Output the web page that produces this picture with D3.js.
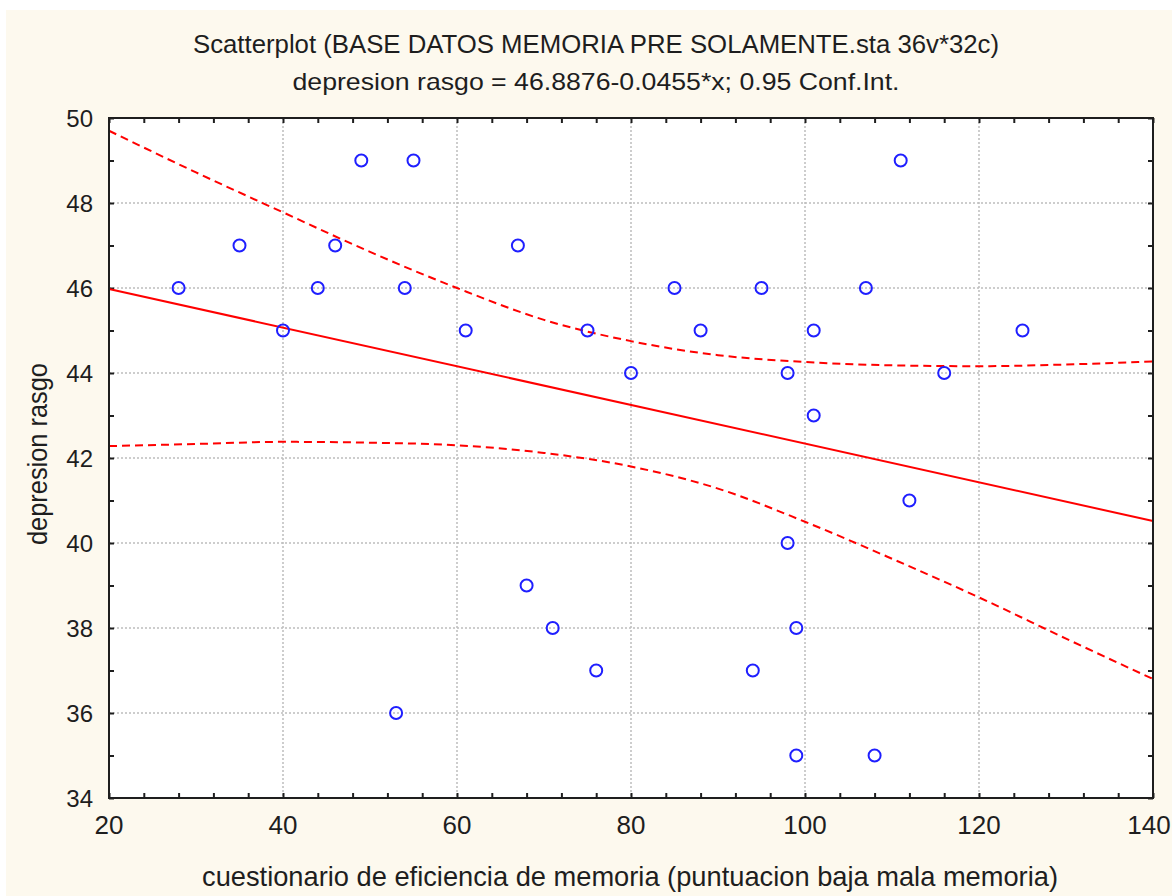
<!DOCTYPE html>
<html>
<head>
<meta charset="utf-8">
<script src="https://cdn.jsdelivr.net/npm/d3@7"></script>
<style>
  body { margin: 0; background: #ffffff; }
  text { font-family: "Liberation Sans Narrow", "Arial Narrow", "Liberation Sans", sans-serif; fill: #1e1e1e; }
</style>
</head>
<body>
<svg id="chart"></svg>
<script>
// data
const memoria = [28, 35, 40, 44, 46, 49, 55, 54, 53, 61, 67, 68, 71, 75, 76, 80,
                 85, 88, 94, 95, 98, 98, 99, 99, 101, 101, 107, 108, 111, 112, 116, 125];
const depresion = [46, 47, 45, 46, 47, 49, 49, 46, 36, 45, 47, 39, 38, 45, 37, 44,
                   46, 45, 37, 46, 44, 40, 38, 35, 45, 43, 46, 35, 49, 41, 44, 45];

// fitted line from the title: 46.8876 - 0.0455*x
const intercept = 46.8876;
const slope = -0.0455;

// 0.95 confidence band, read at these x positions
const bandX = [20, 30, 40, 50, 60, 70, 80, 90, 100, 110, 120, 130, 140];
const bandUpper = [49.70, 48.72, 47.78, 46.85, 46.00, 45.25, 44.75, 44.42, 44.26, 44.18, 44.16, 44.20, 44.27];
const bandLower = [42.28, 42.33, 42.38, 42.36, 42.30, 42.12, 41.80, 41.28, 40.50, 39.63, 38.72, 37.75, 36.80];

const xTicks = [20, 40, 60, 80, 100, 120, 140];
const yTicks = [34, 36, 38, 40, 42, 44, 46, 48, 50];

const title1 = "Scatterplot (BASE DATOS MEMORIA PRE SOLAMENTE.sta 36v*32c)";
const title2 = "depresion rasgo = 46.8876-0.0455*x; 0.95 Conf.Int.";
const xTitle = "cuestionario de eficiencia de memoria (puntuacion baja mala memoria)";
const yTitle = "depresion rasgo";

const width = 1172, height = 896;
const plot = { left: 109, right: 1153, top: 118, bottom: 798 };

const svg = d3.select("#chart").attr("width", width).attr("height", height);

// cream panel
svg.append("rect").attr("x", 6).attr("y", 10).attr("width", width - 6).attr("height", height - 10)
    .attr("fill", "#fdf9ee");

const x = d3.scaleLinear().domain([20, 140]).range([plot.left, plot.right]);
const y = d3.scaleLinear().domain([34, 50]).range([plot.bottom, plot.top]);

svg.append("rect")
    .attr("x", plot.left).attr("y", plot.top)
    .attr("width", plot.right - plot.left).attr("height", plot.bottom - plot.top)
    .attr("fill", "#ffffff");

// grid lines (interior major ticks only)
const grid = svg.append("g").attr("stroke", "#bdbdbd").attr("stroke-width", 1.5)
    .attr("stroke-dasharray", "2,2");
grid.selectAll(".gx").data(xTicks.slice(1, -1)).enter().append("line")
    .attr("x1", d => x(d)).attr("x2", d => x(d))
    .attr("y1", plot.top).attr("y2", plot.bottom);
grid.selectAll(".gy").data(yTicks.slice(1, -1)).enter().append("line")
    .attr("y1", d => y(d)).attr("y2", d => y(d))
    .attr("x1", plot.left).attr("x2", plot.right);

// axes with inward ticks on all four sides
const xMinor = d3.range(20, 141, 4);
const yMinor = d3.range(34, 51, 1);

svg.append("g")
    .attr("transform", "translate(0," + plot.bottom + ")")
    .call(d3.axisTop(x).tickValues(xMinor).tickSize(5).tickFormat(""))
    .call(g => g.select(".domain").remove());
svg.append("g")
    .attr("transform", "translate(0," + plot.top + ")")
    .call(d3.axisBottom(x).tickValues(xMinor).tickSize(5).tickFormat(""))
    .call(g => g.select(".domain").remove());
svg.append("g")
    .attr("transform", "translate(" + plot.left + ",0)")
    .call(d3.axisRight(y).tickValues(yMinor).tickSize(5).tickFormat(""))
    .call(g => g.select(".domain").remove());
svg.append("g")
    .attr("transform", "translate(" + plot.right + ",0)")
    .call(d3.axisLeft(y).tickValues(yMinor).tickSize(5).tickFormat(""))
    .call(g => g.select(".domain").remove());
svg.selectAll(".tick line").attr("stroke", "#1e1e1e").attr("stroke-width", 2);

// tick labels (last one kept inside the window)
svg.append("g").selectAll("text").data(xTicks).enter().append("text")
    .attr("x", d => Math.min(x(d), width - 23)).attr("y", 834)
    .attr("text-anchor", "middle")
    .attr("font-size", 26)
    .text(d => d);
svg.append("g").selectAll("text").data(yTicks).enter().append("text")
    .attr("x", 93).attr("y", d => y(d) + 9)
    .attr("text-anchor", "end")
    .attr("font-size", 24)
    .text(d => d);

// confidence band and fitted line
const bandLine = d3.line().x(d => x(d[0])).y(d => y(d[1])).curve(d3.curveMonotoneX);
const plotArea = svg.append("g");
plotArea.append("path")
    .datum(bandX.map((v, i) => [v, bandUpper[i]]))
    .attr("d", bandLine)
    .attr("fill", "none").attr("stroke", "#ff0000").attr("stroke-width", 2)
    .attr("stroke-dasharray", "8,5");
plotArea.append("path")
    .datum(bandX.map((v, i) => [v, bandLower[i]]))
    .attr("d", bandLine)
    .attr("fill", "none").attr("stroke", "#ff0000").attr("stroke-width", 2)
    .attr("stroke-dasharray", "8,5");
plotArea.append("line")
    .attr("x1", x(20)).attr("y1", y(intercept + slope * 20))
    .attr("x2", x(140)).attr("y2", y(intercept + slope * 140))
    .attr("stroke", "#ff0000").attr("stroke-width", 2);

// points
plotArea.selectAll("circle").data(memoria).enter().append("circle")
    .attr("cx", d => x(d))
    .attr("cy", (d, i) => y(depresion[i]))
    .attr("r", 6)
    .attr("fill", "none")
    .attr("stroke", "#1f1fff")
    .attr("stroke-width", 2);

// frame
svg.append("rect")
    .attr("x", plot.left).attr("y", plot.top)
    .attr("width", plot.right - plot.left).attr("height", plot.bottom - plot.top)
    .attr("fill", "none").attr("stroke", "#1e1e1e").attr("stroke-width", 2);

// titles
svg.append("text").attr("x", 596).attr("y", 53).attr("text-anchor", "middle")
    .attr("font-size", 25).attr("textLength", 806).attr("lengthAdjust", "spacingAndGlyphs")
    .text(title1);
svg.append("text").attr("x", 596).attr("y", 90).attr("text-anchor", "middle")
    .attr("font-size", 24).attr("textLength", 607).attr("lengthAdjust", "spacingAndGlyphs")
    .text(title2);
svg.append("text").attr("x", 630).attr("y", 886).attr("text-anchor", "middle")
    .attr("font-size", 28).attr("textLength", 856).attr("lengthAdjust", "spacingAndGlyphs")
    .text(xTitle);
svg.append("text")
    .attr("transform", "translate(47,454) rotate(-90)")
    .attr("text-anchor", "middle")
    .attr("font-size", 27).attr("textLength", 182).attr("lengthAdjust", "spacingAndGlyphs")
    .text(yTitle);
</script>
</body>
</html>
